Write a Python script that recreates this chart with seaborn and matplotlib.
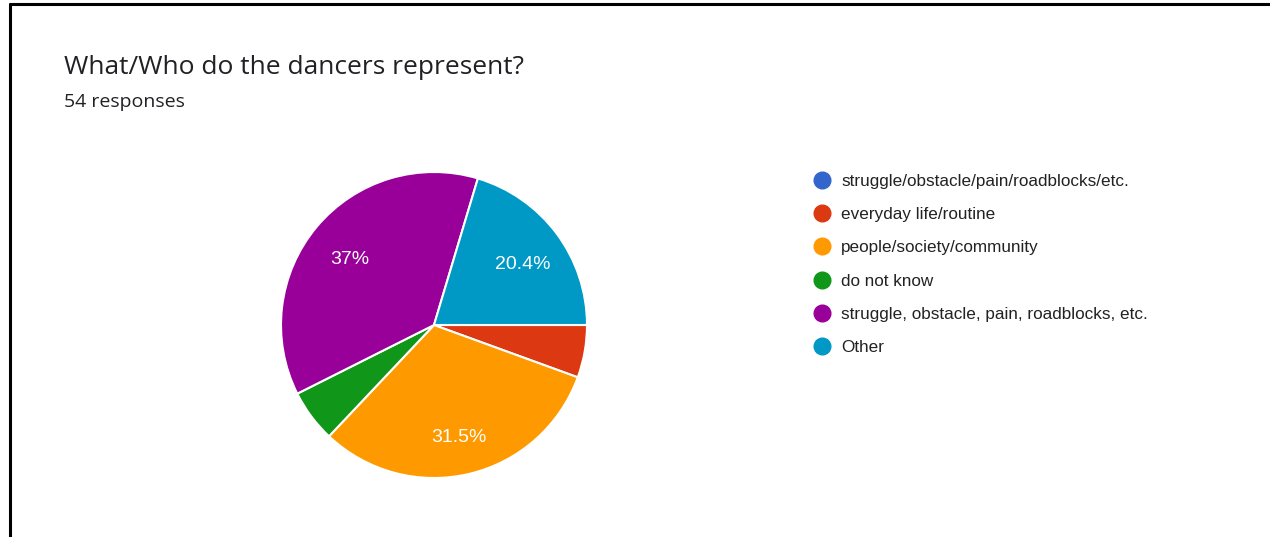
import matplotlib
matplotlib.use("Agg")
import matplotlib.pyplot as plt
from matplotlib.lines import Line2D
import seaborn as sns

categories = [
    "struggle/obstacle/pain/roadblocks/etc.",
    "everyday life/routine",
    "people/society/community",
    "do not know",
    "struggle, obstacle, pain, roadblocks, etc.",
    "Other",
]
counts = [0, 3, 17, 3, 20, 11]
colors = ["#3366cc", "#dc3912", "#ff9900", "#109618", "#990099", "#0099c6"]
title = "What/Who do the dancers represent?"
subtitle = "54 responses"

sns.set_theme(style="white")
plt.rcParams["font.family"] = ["Liberation Sans", "DejaVu Sans"]
palette = sns.color_palette(colors)

W, H = 1270, 537
fig = plt.figure(figsize=(W / 100, H / 100), dpi=100)
fig.patch.set_facecolor("white")

# frame lines (left and top)
fig.add_artist(Line2D([10 / W, 10 / W], [0, 1 - 4 / H], color="black", lw=2.2,
                      transform=fig.transFigure))
fig.add_artist(Line2D([10 / W, 1], [1 - 4 / H, 1 - 4 / H], color="black", lw=2.2,
                      transform=fig.transFigure))

cx, cy, r = 434, 325, 153
ax = fig.add_axes([(cx - r) / W, (H - cy - r) / H, 2 * r / W, 2 * r / H])


def fmt(p):
    if p < 10:
        return ""
    s = f"{p:.1f}"
    if s.endswith(".0"):
        s = s[:-2]
    return s + "%"


wedges, texts, autotexts = ax.pie(
    counts, colors=palette, startangle=0, counterclock=False,
    autopct=fmt, pctdistance=0.72, radius=1.0,
    wedgeprops=dict(edgecolor="white", linewidth=1.5),
    textprops=dict(color="white", fontsize=14),
)
for t in autotexts:
    x, y = t.get_position()
    t.set_position((x, y - 0.035))
ax.set_xlim(-1, 1)
ax.set_ylim(-1, 1)
ax.set_aspect("equal")
ax.axis("off")

fig.text(64 / W, 1 - 67 / H, title, fontsize=19, color="#202124",
         family=["Open Sans", "DejaVu Sans"], va="center", ha="left")
fig.text(64 / W, 1 - 102 / H, subtitle, fontsize=14, color="#202124",
         family=["Open Sans", "DejaVu Sans"], va="center", ha="left")

handles = [Line2D([0], [0], marker="o", linestyle="", markersize=12,
                  markerfacecolor=c, markeredgecolor=c) for c in palette]
leg = fig.legend(handles, categories, loc="upper left",
                 bbox_to_anchor=(802 / W, 1 - 167 / H), frameon=False,
                 fontsize=12.3, labelspacing=1.07, handletextpad=0.4,
                 handlelength=1.5, borderaxespad=0)
for t in leg.get_texts():
    t.set_color("#222222")

fig.savefig("out.png", dpi=100, facecolor="white")
